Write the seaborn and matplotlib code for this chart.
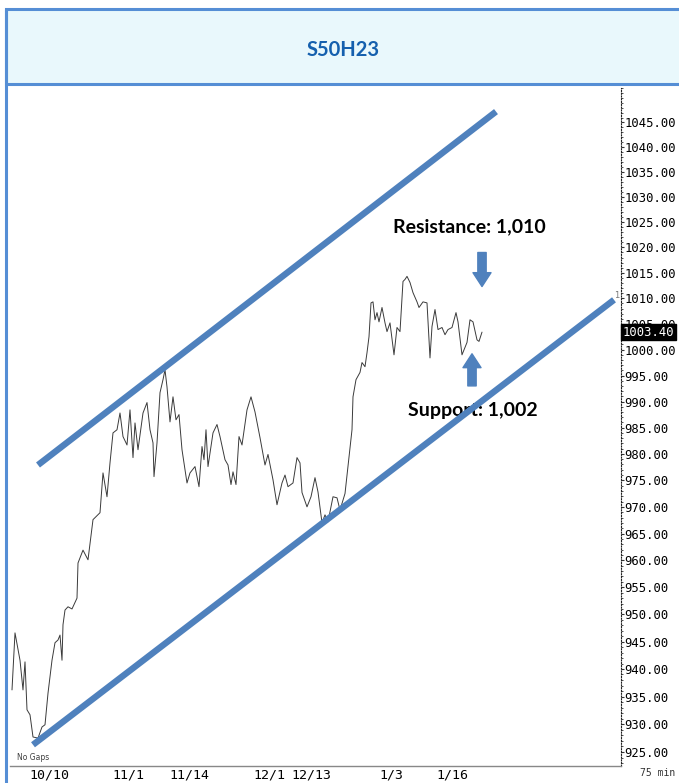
import matplotlib
matplotlib.use("Agg")
import numpy as np
import pandas as pd
import seaborn as sns
from matplotlib import pyplot as plt
from matplotlib import transforms
from matplotlib.patches import Rectangle
from matplotlib.lines import Line2D
from matplotlib.ticker import FixedLocator, MultipleLocator, FormatStrFormatter, NullFormatter

# 75 min bars, index counted from the first bar shown
bar = [0, 3, 8, 11, 13, 15, 18, 21, 26, 30, 33, 36, 40, 43, 46, 48, 50, 51, 53, 56,
       60, 65, 66, 71, 76, 81, 88, 91, 95, 98, 101, 105, 108, 111, 115, 118, 121, 123, 126, 131,
       135, 138, 141, 142, 145, 148, 151, 153, 155, 158, 161, 164, 167, 170, 175, 178, 183, 187, 190, 192,
       194, 196, 201, 205, 208, 213, 216, 219, 221, 224, 227, 230, 235, 239, 243, 248, 253, 256, 261, 265,
       270, 273, 276, 281, 285, 288, 290, 295, 299, 303, 306, 310, 313, 316, 321, 325, 328, 333, 336, 340,
       341, 344, 348, 350, 353, 355, 357, 359, 361, 363, 365, 367, 370, 373, 375, 378, 382, 385, 388, 391,
       393, 395, 398, 401, 405, 407, 411, 415, 418, 420, 423, 426, 430, 433, 436, 440, 444, 446, 450, 455,
       458, 461, 465, 467, 470]
price = [936.2, 946.6, 941.6, 936.2, 941.3, 932.6, 931.7, 927.7, 927.5, 929.5, 929.9, 935.6, 941.6, 944.8, 945.3, 946.2, 941.6, 948.1, 950.8, 951.4,
         951.0, 953.0, 959.5, 961.9, 960.1, 967.6, 968.9, 976.4, 971.9, 978.3, 984.0, 984.6, 987.8, 983.3, 981.7, 988.4, 979.3, 985.9, 980.8, 987.8,
         989.8, 984.6, 982.1, 975.7, 982.1, 991.7, 994.2, 996.1, 992.8, 986.1, 990.9, 986.5, 987.5, 980.8, 974.5, 976.4, 977.6, 973.8, 981.4, 978.9,
         984.6, 977.6, 984.0, 985.6, 983.3, 978.9, 977.9, 974.2, 976.6, 974.2, 983.3, 981.7, 988.4, 990.9, 988.0, 983.1, 977.9, 979.9, 975.1, 970.4,
         974.5, 976.0, 973.8, 974.5, 979.3, 978.3, 972.7, 970.0, 971.9, 975.5, 972.8, 967.0, 968.5, 967.2, 971.9, 971.7, 969.4, 972.5, 977.6, 984.6,
         990.9, 994.2, 995.6, 997.5, 996.7, 999.4, 1002.5, 1009.1, 1009.3, 1005.8, 1007.2, 1005.4, 1008.2, 1005.2, 1003.5, 1005.2, 999.0, 1004.3, 1003.5, 1013.3,
         1013.7, 1014.3, 1013.1, 1011.1, 1009.3, 1008.2, 1009.3, 1009.1, 998.4, 1004.5, 1007.8, 1003.9, 1004.3, 1002.9, 1003.9, 1004.3, 1007.2, 1005.4, 999.0, 1001.4,
         1005.8, 1005.4, 1001.9, 1001.6, 1003.4]

date_bar = [15, 98, 155, 239, 277, 365, 422]
date_labels = ["10/10", "11/1", "11/14", "12/1", "12/13", "1/3", "1/16"]

y_ticks = list(range(925, 1050, 5))
last_price = 1003.40

# channel lines drawn by the analyst
upper_bar = [26, 484]
upper_price = [977.9, 1047.2]
lower_bar = [21, 602]
lower_price = [926.3, 1009.7]

resistance_bar, resistance_price = 381, 1024.1
support_bar, support_price = 396, 988.2
down_arrow_bar, down_arrow_from, down_arrow_to = 470, 1019.0, 1012.3
up_arrow_bar, up_arrow_from, up_arrow_to = 460, 993.0, 999.2

df = pd.DataFrame({"bar": bar, "price": price})

sns.set_theme(style="white")
plt.rcParams["font.family"] = ["DejaVu Sans"]

BLUE = "#4F81BD"
FRAME = "#558ED5"
W, H = 679, 783

fig = plt.figure(figsize=(W / 100, H / 100), dpi=100)
fig.patch.set_facecolor("white")

# title bar and frame
fig.add_artist(Rectangle((6 / W, (H - 84) / H), 1.0, 75 / H, transform=fig.transFigure,
                         facecolor="#E9F8FC", edgecolor=FRAME, linewidth=2.2))
fig.add_artist(Line2D([6 / W, 6 / W], [0, (H - 9) / H], transform=fig.transFigure,
                      color=FRAME, linewidth=2.2))
fig.text(343 / W, (H - 50) / H, "S50H23", ha="center", va="center", fontsize=14.5,
         fontweight="bold", color="#1560AE", family=["Lato", "DejaVu Sans"])

ax = fig.add_axes([10 / W, 17 / H, 611 / W, 678 / H])
ax.set_facecolor("white")
sns.lineplot(data=df, x="bar", y="price", ax=ax, color="#3a3a3a", linewidth=0.7, zorder=3)

ax.set_yscale("log")
ax.set_ylim(922.5, 1052.0)
ax.set_xlim(-2, 609)
ax.set_xlabel("")
ax.set_ylabel("")

# right price axis
ax.yaxis.tick_right()
ax.yaxis.set_major_locator(FixedLocator(y_ticks))
ax.yaxis.set_major_formatter(FormatStrFormatter("%.2f"))
ax.yaxis.set_minor_locator(MultipleLocator(1))
ax.yaxis.set_minor_formatter(NullFormatter())
ax.tick_params(axis="y", which="major", direction="out", length=2, width=0.8, pad=0.5,
               labelsize=8.8, labelcolor="black", color="#333333")
ax.tick_params(axis="y", which="minor", direction="out", length=1.2, width=0.6, color="#333333")
for lbl in ax.get_yticklabels():
    lbl.set_family("DejaVu Sans Mono")

for side in ["left", "top"]:
    ax.spines[side].set_visible(False)
ax.spines["right"].set_linestyle((0, (1, 1.5)))
ax.spines["right"].set_color("#222222")
ax.spines["right"].set_linewidth(0.8)
ax.spines["bottom"].set_color("#888888")
ax.spines["bottom"].set_linewidth(1.0)

# date axis: tick lines hanging under the axis, labels to the right of them
ax.set_xticks(date_bar)
ax.set_xticklabels([])
ax.tick_params(axis="x", direction="out", length=13, width=0.8, color="#888888")
date_tf = transforms.blended_transform_factory(ax.transData, ax.transAxes)
for b, lab in zip(date_bar, date_labels):
    ax.text(b + 2, -0.004, lab, transform=date_tf, ha="left", va="top", fontsize=9.5,
            family="DejaVu Sans Mono", color="black", clip_on=False)

# channel
ax.plot(upper_bar, upper_price, color=BLUE, linewidth=4.6, solid_capstyle="butt", zorder=5)
ax.plot(lower_bar, lower_price, color=BLUE, linewidth=4.6, solid_capstyle="butt", zorder=5)

# labels and arrows
ax.text(resistance_bar, resistance_price, "Resistance: 1,010", ha="left", va="center",
        fontsize=14, fontweight="bold", color="black", family=["Lato", "DejaVu Sans"], zorder=4)
ax.text(support_bar, support_price, "Support: 1,002", ha="left", va="center",
        fontsize=14, fontweight="bold", color="black", family=["Lato", "DejaVu Sans"], zorder=4)
arrow_style = "simple,head_length=0.5,head_width=0.65,tail_width=0.3"
ax.annotate("", xy=(down_arrow_bar, down_arrow_to), xytext=(down_arrow_bar, down_arrow_from),
            arrowprops=dict(arrowstyle=arrow_style, color=BLUE, mutation_scale=20,
                            shrinkA=0, shrinkB=0), zorder=6)
ax.annotate("", xy=(up_arrow_bar, up_arrow_to), xytext=(up_arrow_bar, up_arrow_from),
            arrowprops=dict(arrowstyle=arrow_style, color=BLUE, mutation_scale=20,
                            shrinkA=0, shrinkB=0), zorder=6)

# last price tag on the axis
tag_tf = transforms.blended_transform_factory(ax.transAxes, ax.transData)
ax.text(1.003, last_price, f"{last_price:.2f}", transform=tag_tf, ha="left", va="center",
        fontsize=8.8, family="DejaVu Sans Mono", color="white", clip_on=False, zorder=10,
        bbox=dict(boxstyle="square,pad=0.15", facecolor="black", edgecolor="black"))
ax.text(0.993, 1010.5, "1", transform=tag_tf, ha="center", va="center",
        fontsize=6, color="#777777", clip_on=False)

ax.text(0.011, 0.006, "No Gaps", transform=ax.transAxes, ha="left", va="bottom",
        fontsize=5.5, color="#404040")
fig.text(640 / W, 10 / H, "75 min", ha="left", va="center", fontsize=7,
         family="DejaVu Sans Mono", color="#333333")

fig.savefig("out.png", dpi=100, facecolor="white")
